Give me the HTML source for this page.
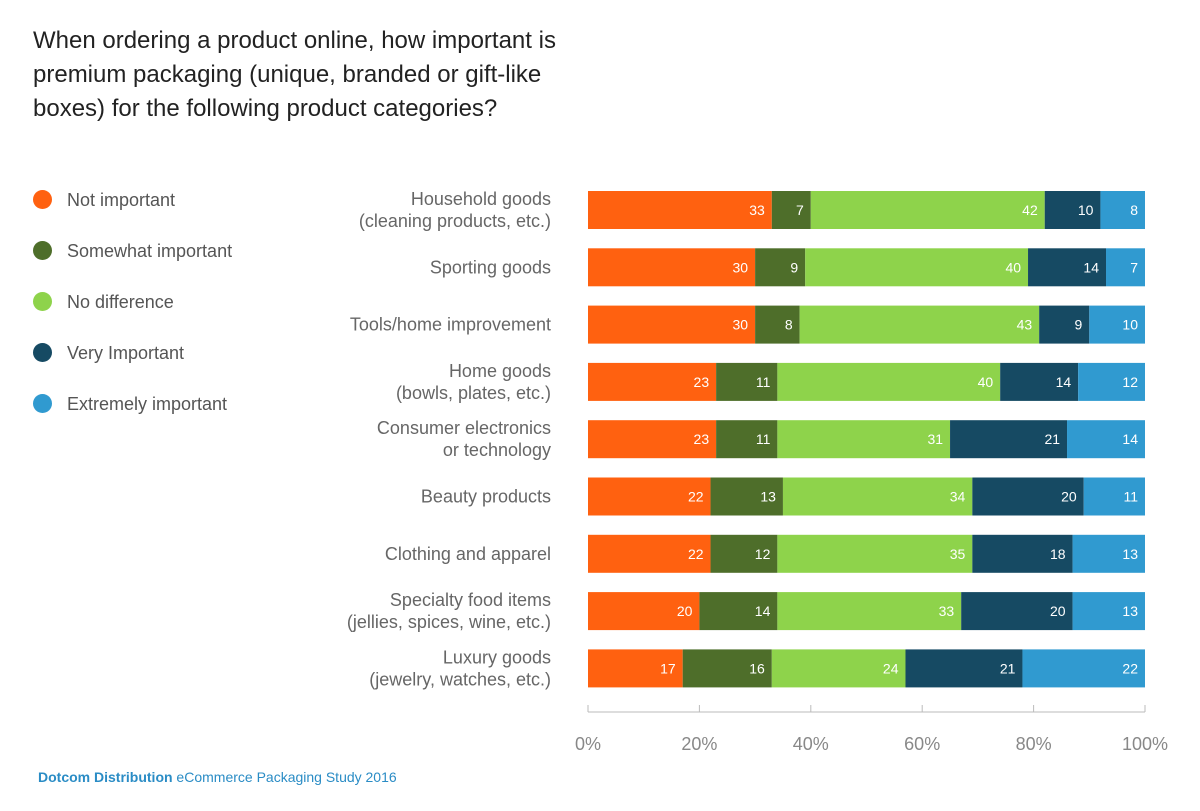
<!DOCTYPE html>
<html><head><meta charset="utf-8"><style>
body{margin:0;background:#fff;font-family:"Liberation Sans",sans-serif;}
#wrap{position:relative;width:1200px;height:811px;overflow:hidden;}
.title{position:absolute;left:33px;top:24px;font-size:24px;line-height:34px;color:#222;width:560px;}
.leg{position:absolute;left:33px;font-size:18px;color:#555;}
.leg span.dot{display:inline-block;width:19px;height:19px;border-radius:50%;vertical-align:middle;margin-right:15px;position:relative;top:-2px;}
.footer{position:absolute;left:38px;top:769px;font-size:14px;color:#2a8cc5;}
</style></head><body>
<div id="wrap">
<div class="title">When ordering a product online, how important is premium packaging (unique, branded or gift-like boxes) for the following product categories?</div>
<div id="legend"></div>
<svg id="svg" width="1200" height="811" style="position:absolute;left:0;top:0"></svg>
<div class="footer"><b>Dotcom Distribution</b> eCommerce Packaging Study 2016</div>
</div>
<script>
const categories=[["Household goods","(cleaning products, etc.)"],["Sporting goods"],["Tools/home improvement"],["Home goods","(bowls, plates, etc.)"],["Consumer electronics","or technology"],["Beauty products"],["Clothing and apparel"],["Specialty food items","(jellies, spices, wine, etc.)"],["Luxury goods","(jewelry, watches, etc.)"]];
const seriesNames=["Not important","Somewhat important","No difference","Very Important","Extremely important"];
const notImportant=[33,30,30,23,23,22,22,20,17];
const somewhat=[7,9,8,11,11,13,12,14,16];
const noDiff=[42,40,43,40,31,34,35,33,24];
const very=[10,14,9,14,21,20,18,20,21];
const extremely=[8,7,10,12,14,11,13,13,22];
const ticks=[0,20,40,60,80,100];
const colors=["#FF6110","#4E6E2A","#8ED34B","#164A63","#309AD0"];
const series=[notImportant,somewhat,noDiff,very,extremely];
const NS="http://www.w3.org/2000/svg";
const svg=document.getElementById('svg');
const x0=588,x1=1145,yTop=191,step=57.3,bh=38;
const xs=v=>x0+(x1-x0)*v/100;
function mk(t,a){const e=document.createElementNS(NS,t);for(const k in a)e.setAttribute(k,a[k]);svg.appendChild(e);return e;}
const leg=document.getElementById('legend');
seriesNames.forEach((n,i)=>{const d=document.createElement('div');d.className='leg';d.style.top=(190+i*51)+'px';

d.innerHTML='<span class="dot" style="background:'+colors[i]+'"></span>'+n;leg.appendChild(d);});
categories.forEach((c,r)=>{
 const y=yTop+r*step;
 const tot=series.reduce((s,a)=>s+a[r],0);
 let acc=0;
 series.forEach((a,i)=>{
  const v=a[r];const xa=xs(acc/tot*100),xb=xs((acc+v)/tot*100);acc+=v;
  const rc=mk('rect',{x:xa,y:y,width:xb-xa,height:bh,fill:colors[i]});
  
  const t=mk('text',{x:xb-7,y:y+bh/2+5,'text-anchor':'end','font-size':14,fill:'#fff','font-family':'Liberation Sans'});
  t.textContent=v;
 });
 const cy=y+bh/2;
 c.forEach((l,k)=>{
  const off=c.length==1?6:(k==0?-5:17);
  const t=mk('text',{x:551,y:cy+off,'text-anchor':'end','font-size':18,fill:'#666','font-family':'Liberation Sans'});
  t.textContent=l;
 });
});
const ax=mk('line',{x1:x0,x2:x1,y1:712,y2:712,stroke:'#bbb','stroke-width':1});

ticks.forEach(v=>{
 const l=mk('line',{x1:xs(v),x2:xs(v),y1:705,y2:712,stroke:'#bbb'});
 
 const t=mk('text',{x:xs(v),y:750,'text-anchor':'middle','font-size':18,fill:'#888','font-family':'Liberation Sans'});
 t.textContent=v+'%';
});
</script>
</body></html>
